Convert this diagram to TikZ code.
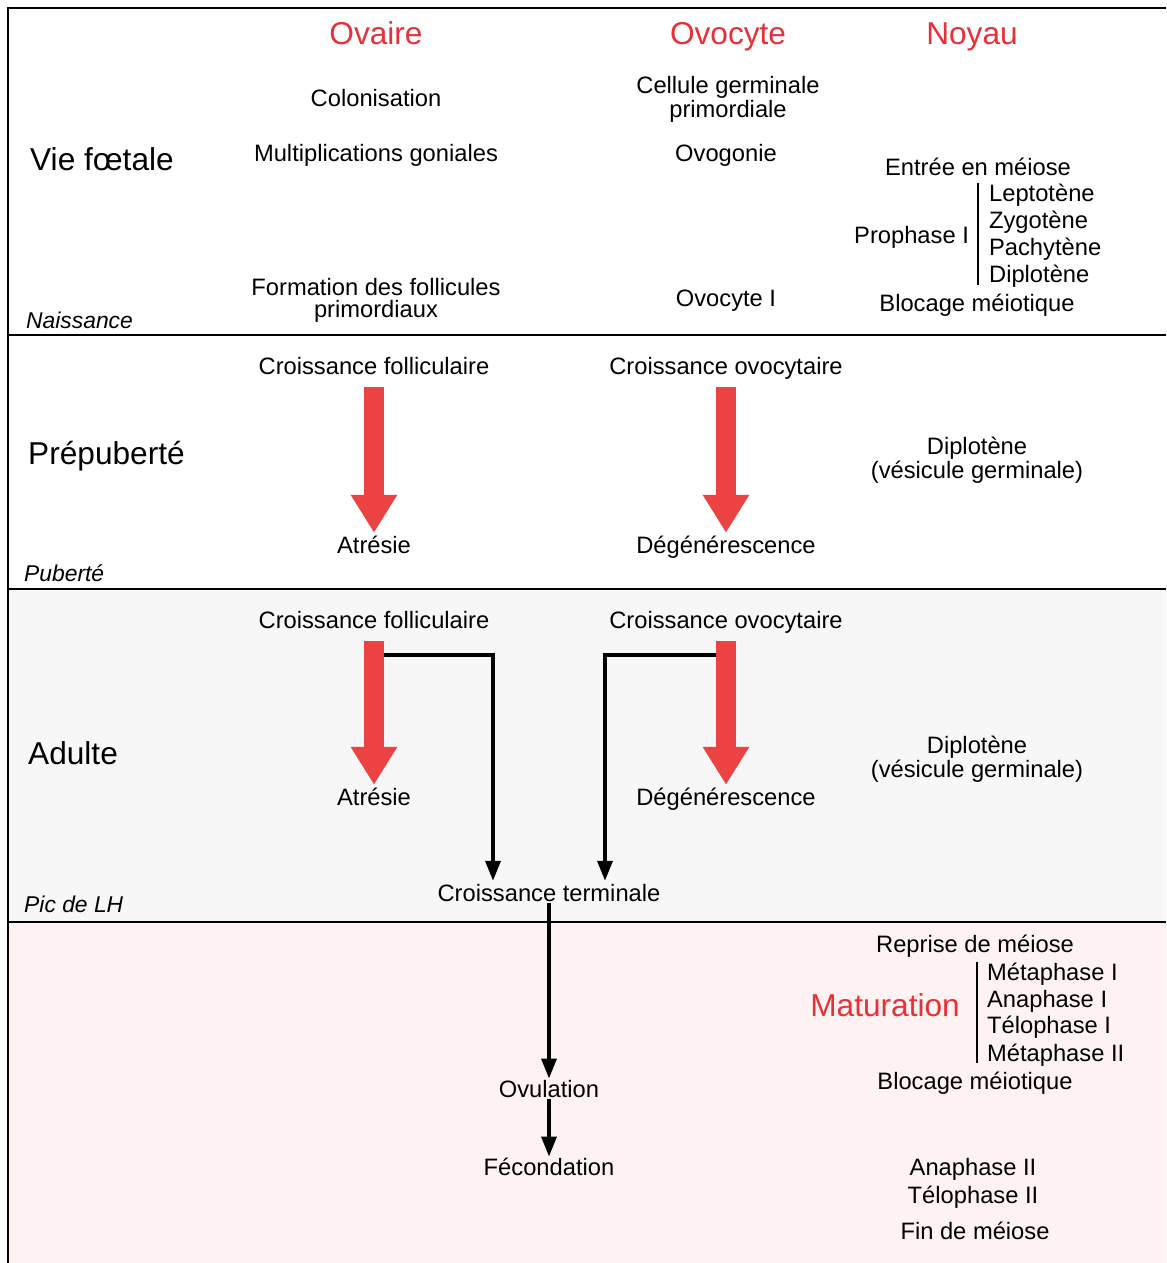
\documentclass[tikz,border=0pt]{standalone}
\usepackage{fontspec}
\setmainfont{Liberation Sans}
\usetikzlibrary{arrows.meta,calc}
\definecolor{hdrred}{RGB}{232,48,56}
\definecolor{arrowred}{RGB}{236,66,66}
\tikzset{
  hdr/.style={text=hdrred, font=\fontsize{18}{20}\selectfont, text height=0.95em, text depth=0pt},
  period/.style={anchor=west, font=\fontsize{18}{20}\selectfont},
  event/.style={anchor=west, font=\itshape\fontsize{13}{14}\selectfont},
  txt/.style={font=\fontsize{13.5}{12.5}\selectfont, align=center, inner sep=1pt,
    text height=0.95em, text depth=0pt},
  twolines/.style={txt, text height=, text depth=},
  bigarrow/.style={line width=0.4cm, draw=arrowred, -{Triangle[width=0.88cm,length=0.76cm]}},
  blkarrow/.style={line width=2pt, -{Triangle[width=0.3cm,length=0.4cm]}},
  sepline/.style={line width=1.5pt},
}
\begin{document}
\begin{tikzpicture}[x=0.02cm, y=-0.02cm]
  \useasboundingbox (0,0) rectangle (1166,1263);
  % fonds des bandes
  \fill[black!3] (8,589) rectangle (1166,922);
  \fill[red!5] (8,922) rectangle (1166,1263);
  \draw[sepline] (8,1263) -- (8,8) -- (1166,8);
  \foreach \yy in {335,589,922} \draw[sepline] (8,\yy) -- (1166,\yy);

  % en-tetes
  \node[hdr] (ovaire) at (376,36) {Ovaire};
  \node[hdr] (ovocyte) at (728,36) {Ovocyte};
  \node[hdr] (noyau) at (972,36) {Noyau};

  % vie foetale
  \node[period] (vf) at (24,159) {Vie fœtale};
  \node[event] (naiss) at (20,320) {Naissance};
  \node[txt] (colon) at (376,98) {Colonisation};
  \node[txt] (mult) at (376,153) {Multiplications goniales};
  \node[twolines] (form) at (376,300) {Formation des follicules\\primordiaux};
  \node[twolines] (cgp) at (728,99) {Cellule germinale\\primordiale};
  \node[txt] (ovog) at (726,153) {Ovogonie};
  \node[txt] (ovo1) at (726,298) {Ovocyte I};
  \node[txt] (entree) at (978,167) {Entrée en méiose};
  \node[txt, anchor=east] (proph) at (971,235) {Prophase I};
  \node[txt, anchor=west] (lepto) at (987,193) {Leptotène};
  \node[txt, anchor=west] (zygo) at (987,220) {Zygotène};
  \node[txt, anchor=west] (pachy) at (987,247) {Pachytène};
  \node[txt, anchor=west] (diplo) at (987,274) {Diplotène};
  \draw[line width=1pt] (978,183) -- (978,285);
  \node[txt] (bloc1) at (977,303) {Blocage méiotique};

  % prepuberte
  \node[period] (prep) at (22,456) {Prépuberté};
  \node[event] (pub) at (18,573) {Puberté};
  \node[txt] (cf1) at (374,366) {Croissance folliculaire};
  \node[txt] (co1) at (726,366) {Croissance ovocytaire};
  \node[txt] (atr1) at (374,545) {Atrésie};
  \node[txt] (deg1) at (726,545) {Dégénérescence};
  \node[twolines] (dip1) at (977,460) {Diplotène\\(vésicule germinale)};
  \draw[bigarrow, shorten <=6pt, shorten >=1pt] (cf1) -- (atr1);
  \draw[bigarrow, shorten <=6pt, shorten >=1pt] (co1) -- (deg1);

  % adulte
  \node[period] (adul) at (22,753) {Adulte};
  \node[event] (lh) at (18,904) {Pic de LH};
  \node[txt] (cf2) at (374,620) {Croissance folliculaire};
  \node[txt] (co2) at (726,620) {Croissance ovocytaire};
  \node[txt] (atr2) at (374,797) {Atrésie};
  \node[txt] (deg2) at (726,797) {Dégénérescence};
  \node[twolines] (dip2) at (977,759) {Diplotène\\(vésicule germinale)};
  \node[txt] (ct) at (549,893) {Croissance terminale};
  \draw[bigarrow, shorten <=6pt, shorten >=1pt] (cf2) -- (atr2);
  \draw[bigarrow, shorten <=6pt, shorten >=1pt] (co2) -- (deg2);
  \coordinate (jf) at (384,655);
  \coordinate (jo) at (716,655);
  \draw[blkarrow, shorten >=1pt] (jf) -| ($(ct.north)+(-56,0)$);
  \draw[blkarrow, shorten >=1pt] (jo) -| ($(ct.north)+(56,0)$);

  % maturation
  \node[txt] (ovul) at (549,1089) {Ovulation};
  \node[txt] (fecond) at (549,1167) {Fécondation};
  \draw[blkarrow] (ct) -- (ovul);
  \draw[blkarrow] (ovul) -- (fecond);
  \node[txt] (repr) at (975,944) {Reprise de méiose};
  \node[hdr, anchor=east] (matur) at (966,1008) {Maturation};
  \node[txt, anchor=west] (meta1) at (985,972) {Métaphase I};
  \node[txt, anchor=west] (ana1) at (985,999) {Anaphase I};
  \node[txt, anchor=west] (telo1) at (985,1025) {Télophase I};
  \node[txt, anchor=west] (meta2) at (985,1053) {Métaphase II};
  \draw[line width=1pt] (977,962) -- (977,1063);
  \node[txt] (bloc2) at (975,1081) {Blocage méiotique};
  \node[txt] (ana2) at (973,1167) {Anaphase II};
  \node[txt] (telo2) at (973,1195) {Télophase II};
  \node[txt] (fin) at (975,1231) {Fin de méiose};
\end{tikzpicture}
\end{document}
